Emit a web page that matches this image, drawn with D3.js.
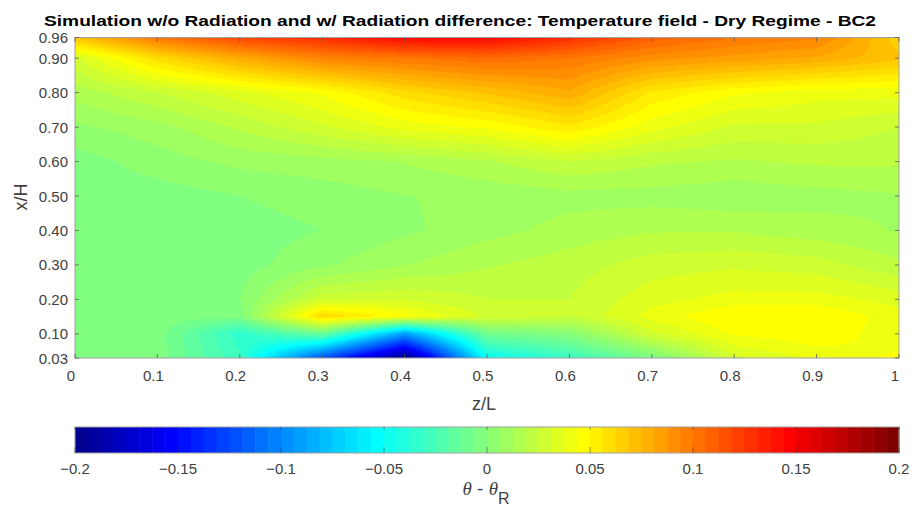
<!DOCTYPE html>
<html><head><meta charset="utf-8">
<script src="https://cdn.jsdelivr.net/npm/d3@7/dist/d3.min.js"></script>
<style>
body{margin:0;background:#fff;}
svg{display:block;font-family:"Liberation Sans",Arial,sans-serif;}
</style>
</head><body>
<svg id="chart" width="914" height="516"></svg>
<script>
// ---------------- DATA ----------------
const titleText = "Simulation w/o Radiation and w/ Radiation difference: Temperature field - Dry Regime - BC2";
const zColumns = [0, 0.1, 0.2, 0.3, 0.4, 0.5, 0.6, 0.7, 0.8, 0.9, 1.0];           // z/L
const xRows    = [0.03, 0.10, 0.15, 0.20, 0.30, 0.40, 0.50, 0.60, 0.70, 0.80, 0.90, 0.96]; // x/H
// theta - theta_R, one array per x/H row (values along z/L)
const row003 = [-0.003, -0.003, -0.030, -0.120, -0.200, -0.050, -0.030, -0.005, 0.030, 0.040, 0.045];
const row010 = [-0.003, -0.003, -0.035, -0.010, -0.090, -0.008, 0.000, 0.030, 0.045, 0.048, 0.040];
const row015 = [-0.003, -0.003, -0.003, 0.062, 0.046, 0.030, 0.025, 0.040, 0.050, 0.050, 0.040];
const row020 = [-0.003, -0.003, 0.000, 0.028, 0.030, 0.025, 0.025, 0.035, 0.040, 0.040, 0.035];
const row030 = [-0.003, -0.003, -0.003, 0.005, 0.012, 0.018, 0.022, 0.028, 0.030, 0.028, 0.020];
const row040 = [-0.003, -0.003, -0.003, 0.000, 0.005, 0.010, 0.015, 0.018, 0.018, 0.015, 0.012];
const row050 = [-0.003, -0.003, 0.000, 0.003, 0.006, 0.008, 0.010, 0.010, 0.008, 0.010, 0.012];
const row060 = [-0.003, 0.003, 0.008, 0.010, 0.013, 0.018, 0.025, 0.020, 0.018, 0.020, 0.020];
const row070 = [0.005, 0.010, 0.020, 0.030, 0.040, 0.045, 0.055, 0.040, 0.030, 0.030, 0.025];
const row080 = [0.015, 0.025, 0.035, 0.045, 0.060, 0.070, 0.080, 0.055, 0.045, 0.040, 0.040];
const row090 = [0.030, 0.060, 0.080, 0.095, 0.100, 0.105, 0.100, 0.090, 0.085, 0.080, 0.070];
const row096 = [0.070, 0.100, 0.120, 0.130, 0.145, 0.145, 0.130, 0.110, 0.100, 0.095, 0.065];
const fieldRows = [row003, row010, row015, row020, row030, row040, row050, row060, row070, row080, row090, row096];

const xTicks = [0, 0.1, 0.2, 0.3, 0.4, 0.5, 0.6, 0.7, 0.8, 0.9, 1];
const yTicks = [0.03, 0.10, 0.20, 0.30, 0.40, 0.50, 0.60, 0.70, 0.80, 0.90, 0.96];
const cbTicks = [-0.2, -0.15, -0.1, -0.05, 0, 0.05, 0.1, 0.15, 0.2];
const cbLimits = [-0.2, 0.2];

// ---------------- MATLAB jet(64) ----------------
function jet(m){
  const n = Math.ceil(m/4);
  const u = [];
  for(let i=1;i<=n;i++) u.push(i/n);
  for(let i=1;i<n;i++) u.push(1);
  for(let i=n;i>=1;i--) u.push(i/n);
  const off = Math.ceil(n/2) - (m%4===1?1:0);
  const R = new Array(m).fill(0), G = new Array(m).fill(0), B = new Array(m).fill(0);
  u.forEach((val,k)=>{
    const g = off + k + 1, r = g + n, b = g - n;
    if(g>=1 && g<=m) G[g-1]=val;
    if(r>=1 && r<=m) R[r-1]=val;
    if(b>=1 && b<=m) B[b-1]=val;
  });
  return d3.range(m).map(i=>[Math.round(R[i]*255),Math.round(G[i]*255),Math.round(B[i]*255)]);
}
const cmap = jet(64);
const colorIndex = d3.scaleQuantize().domain(cbLimits).range(d3.range(64));
const rgb = c => `rgb(${c[0]},${c[1]},${c[2]})`;

// ---------------- LAYOUT ----------------
const svg = d3.select("#chart");
const X0 = 75, X1 = 899, Y0 = 37.5, Y1 = 358;
const xScale = d3.scaleLinear().domain([0,1]).range([X0,X1]);
const yScale = d3.scaleLinear().domain([0.03,0.96]).range([Y1,Y0]);
const labelColor = "#404040";

// ---------------- FIELD (bilinear shading) ----------------
function valueAt(z, xh){
  let i = d3.bisectRight(zColumns, z) - 1; i = Math.max(0, Math.min(zColumns.length-2, i));
  let j = d3.bisectRight(xRows, xh) - 1; j = Math.max(0, Math.min(xRows.length-2, j));
  const tz = Math.max(0, Math.min(1, (z - zColumns[i])/(zColumns[i+1]-zColumns[i])));
  const tx = Math.max(0, Math.min(1, (xh - xRows[j])/(xRows[j+1]-xRows[j])));
  const a = fieldRows[j][i], b = fieldRows[j][i+1], c = fieldRows[j+1][i], d = fieldRows[j+1][i+1];
  return (a*(1-tz)+b*tz)*(1-tx) + (c*(1-tz)+d*tz)*tx;
}
const W = Math.round(X1-X0), H = Math.round(Y1-Y0);
const canvas = document.createElement("canvas");
canvas.width = W; canvas.height = H;
const ctx = canvas.getContext("2d");
const img = ctx.createImageData(W,H);
for(let py=0; py<H; py++){
  const xh = yScale.invert(Y0 + py + 0.5);
  for(let px=0; px<W; px++){
    const z = xScale.invert(X0 + px + 0.5);
    const c = cmap[colorIndex(valueAt(z, xh))];
    const k = (py*W+px)*4;
    img.data[k]=c[0]; img.data[k+1]=c[1]; img.data[k+2]=c[2]; img.data[k+3]=255;
  }
}
ctx.putImageData(img,0,0);
svg.append("image").attr("x",X0).attr("y",Y0).attr("width",X1-X0).attr("height",Y1-Y0)
  .attr("preserveAspectRatio","none").attr("href", canvas.toDataURL());

// ---------------- AXES ----------------
svg.append("rect").attr("x",X0).attr("y",Y0).attr("width",X1-X0).attr("height",Y1-Y0)
  .attr("fill","none").attr("stroke","#a0a0a0").attr("stroke-width",1);
const tk = 4;
const tickG = svg.append("g").attr("stroke","#5a5a5a").attr("stroke-width",0.8);
xTicks.forEach(v=>{
  const x = xScale(v);
  tickG.append("line").attr("x1",x).attr("x2",x).attr("y1",Y1).attr("y2",Y1-tk);
  tickG.append("line").attr("x1",x).attr("x2",x).attr("y1",Y0).attr("y2",Y0+tk);
});
yTicks.forEach(v=>{
  const y = yScale(v);
  tickG.append("line").attr("x1",X0).attr("x2",X0+tk).attr("y1",y).attr("y2",y);
  tickG.append("line").attr("x1",X1).attr("x2",X1-tk).attr("y1",y).attr("y2",y);
});
svg.append("g").selectAll("text").data(xTicks).join("text")
  .attr("x",d=>xScale(d)-4).attr("y",381).attr("text-anchor","middle")
  .attr("font-size",15).attr("fill",labelColor).text(d=>d3.format("~g")(d));
svg.append("g").selectAll("text").data(yTicks).join("text")
  .attr("x",68).attr("y",d=>yScale(d)+5.5).attr("text-anchor","end")
  .attr("font-size",15).attr("fill",labelColor).text(d=>d3.format(".2f")(d));

svg.append("text").attr("x",484).attr("y",410).attr("text-anchor","middle")
  .attr("font-size",18).attr("fill",labelColor).text("z/L");
svg.append("text").attr("transform","translate(27,197) rotate(-90)").attr("text-anchor","middle")
  .attr("font-size",18).attr("fill",labelColor).text("x/H");

svg.append("text").attr("x",460).attr("y",26).attr("text-anchor","middle")
  .attr("font-size",14.5).attr("font-weight","bold").attr("fill","#000")
  .attr("textLength",832).attr("lengthAdjust","spacingAndGlyphs").text(titleText);

// ---------------- COLORBAR ----------------
const CB0 = 75, CB1 = 899, CBY = 427, CBH = 26;
const cbScale = d3.scaleLinear().domain(cbLimits).range([CB0,CB1]);
const step = (cbLimits[1]-cbLimits[0])/64;
svg.append("g").selectAll("rect").data(d3.range(64)).join("rect")
  .attr("x",i=>cbScale(cbLimits[0]+i*step)).attr("y",CBY)
  .attr("width",i=>cbScale(cbLimits[0]+(i+1)*step)-cbScale(cbLimits[0]+i*step)+0.5)
  .attr("height",CBH).attr("fill",i=>rgb(cmap[i]));
svg.append("rect").attr("x",CB0).attr("y",CBY).attr("width",CB1-CB0).attr("height",CBH)
  .attr("fill","none").attr("stroke","#a0a0a0").attr("stroke-width",1);
const cbt = svg.append("g").attr("stroke","#333").attr("stroke-width",0.8).attr("stroke-opacity",0.7);
cbTicks.forEach(v=>{
  const x = cbScale(v);
  cbt.append("line").attr("x1",x).attr("x2",x).attr("y1",CBY+CBH).attr("y2",CBY+CBH-6);
  cbt.append("line").attr("x1",x).attr("x2",x).attr("y1",CBY).attr("y2",CBY+3);
});
svg.append("g").selectAll("text").data(cbTicks).join("text")
  .attr("x",d=>cbScale(d)).attr("y",474).attr("text-anchor","middle")
  .attr("font-size",15).attr("fill",labelColor).text(d=>d3.format("~g")(d));

const cbl = svg.append("text").attr("x",486).attr("y",495).attr("text-anchor","middle")
  .attr("font-size",19).attr("fill",labelColor);
cbl.append("tspan").attr("font-family","'Liberation Serif',serif").attr("font-style","italic").text("θ");
cbl.append("tspan").text(" - ");
cbl.append("tspan").attr("font-family","'Liberation Serif',serif").attr("font-style","italic").text("θ");
cbl.append("tspan").attr("dy",9).attr("font-size",16).text("R");
</script>
</body></html>
